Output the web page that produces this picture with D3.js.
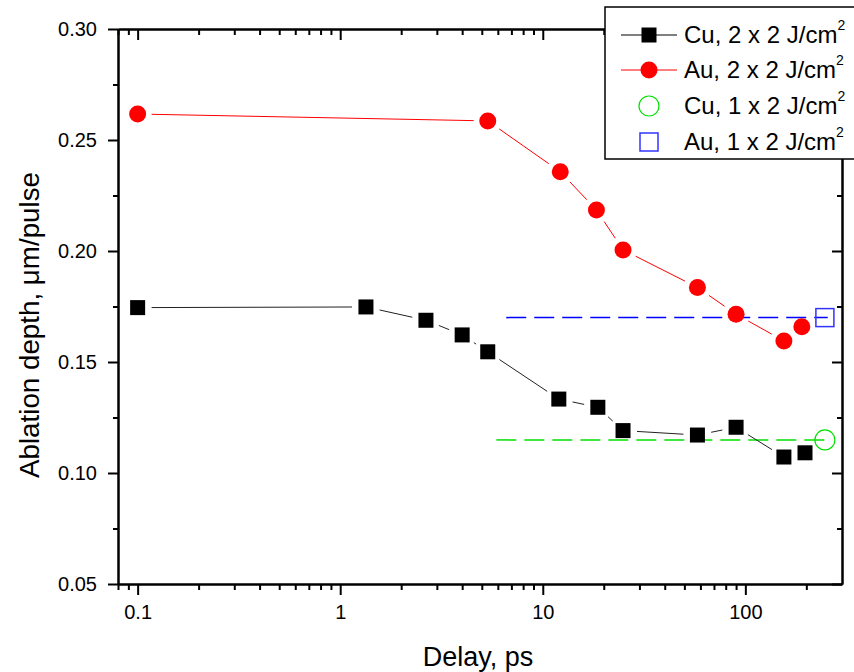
<!DOCTYPE html>
<html>
<head>
<meta charset="utf-8">
<script src="https://d3js.org/d3.v7.min.js"></script>
<style>
  body { margin: 0; background: #fff; }
  svg { display: block; font-family: "Liberation Sans", Arial, sans-serif; }
</style>
</head>
<body>
<div id="chart"></div>
<script>
// data
const cuDelay = [0.1, 1.34, 2.65, 4.0, 5.35, 12.0, 18.7, 24.9, 58, 90, 155, 197];
const cuDepth = [0.1745, 0.1748, 0.1688, 0.1622, 0.1546, 0.1333, 0.1296, 0.1191, 0.1171, 0.1206, 0.1072, 0.1091];
const auDelay = [0.1, 5.35, 12.2, 18.4, 24.9, 58, 90, 155, 190];
const auDepth = [0.2617, 0.2586, 0.2357, 0.2185, 0.2005, 0.1836, 0.1715, 0.1595, 0.1659];
// single-pulse reference points and their dashed level lines
const cu1Delay = [247], cu1Depth = [0.1149], cu1Range = [5.9, 247];
const au1Delay = [247], au1Depth = [0.170], au1Range = [6.6, 255];

const xMajor = [0.1, 1, 10, 100];
const xMinor = [0.08, 0.09, 0.2, 0.3, 0.4, 0.5, 0.6, 0.7, 0.8, 0.9,
  2, 3, 4, 5, 6, 7, 8, 9, 20, 30, 40, 50, 60, 70, 80, 90, 200];
const yMajor = [0.05, 0.10, 0.15, 0.20, 0.25, 0.30];
const yMinor = [0.075, 0.125, 0.175, 0.225, 0.275];

const legendLabels = ["Cu, 2 x 2 J/cm", "Au, 2 x 2 J/cm", "Cu, 1 x 2 J/cm", "Au, 1 x 2 J/cm"];

const W = 854, H = 672;
const pLeft = 118, pRight = 842, pTop = 29, pBottom = 584;

const svg = d3.select("#chart").append("svg")
  .attr("width", W).attr("height", H);

const x = d3.scaleLog().domain([0.08, 300]).range([pLeft, pRight]);
const y = d3.scaleLinear().domain([0.05, 0.30]).range([pBottom, pTop]);

// axes
function styleAxis(g) {
  g.select(".domain").attr("stroke", "#000").attr("stroke-width", 2);
  g.selectAll(".tick line").attr("stroke", "#000").attr("stroke-width", 2);
}

svg.append("g").attr("transform", `translate(0,${pBottom})`)
  .call(d3.axisBottom(x).tickValues(xMinor).tickFormat("").tickSize(6).tickSizeOuter(0))
  .call(styleAxis);
svg.append("g").attr("transform", `translate(0,${pBottom})`)
  .call(d3.axisBottom(x).tickValues(xMajor).tickFormat(d3.format("~g")).tickSize(11).tickSizeOuter(0).tickPadding(10))
  .call(styleAxis)
  .selectAll("text").attr("font-size", 20).attr("fill", "#000")
  .attr("font-family", "Liberation Sans, Arial, sans-serif");

svg.append("g").attr("transform", `translate(0,${pTop})`)
  .call(d3.axisBottom(x).tickValues(xMinor).tickFormat("").tickSize(6).tickSizeOuter(0))
  .call(styleAxis);
svg.append("g").attr("transform", `translate(0,${pTop})`)
  .call(d3.axisBottom(x).tickValues(xMajor).tickFormat("").tickSize(11).tickSizeOuter(0))
  .call(styleAxis);

svg.append("g").attr("transform", `translate(${pLeft},0)`)
  .call(d3.axisLeft(y).tickValues(yMinor).tickFormat("").tickSize(5).tickSizeOuter(0))
  .call(styleAxis);
svg.append("g").attr("transform", `translate(${pLeft},0)`)
  .call(d3.axisLeft(y).tickValues(yMajor).tickFormat(d3.format(".2f")).tickSize(10).tickSizeOuter(0).tickPadding(11))
  .call(styleAxis)
  .selectAll("text").attr("font-size", 20).attr("fill", "#000")
  .attr("font-family", "Liberation Sans, Arial, sans-serif");

svg.append("g").attr("transform", `translate(${pRight},0)`)
  .call(d3.axisLeft(y).tickValues(yMinor).tickFormat("").tickSize(5).tickSizeOuter(0))
  .call(styleAxis);
svg.append("g").attr("transform", `translate(${pRight},0)`)
  .call(d3.axisLeft(y).tickValues(yMajor).tickFormat("").tickSize(10).tickSizeOuter(0))
  .call(styleAxis);

// axis titles
svg.append("text")
  .attr("x", 478).attr("y", 666)
  .attr("text-anchor", "middle").attr("font-size", 27)
  .text("Delay, ps");
svg.append("text")
  .attr("transform", "translate(39,325) rotate(-90)")
  .attr("text-anchor", "middle").attr("font-size", 27)
  .attr("textLength", 306).attr("lengthAdjust", "spacingAndGlyphs")
  .text("Ablation depth, \u03bcm/pulse");

// dashed reference levels
svg.append("line")
  .attr("x1", x(cu1Range[0])).attr("x2", x(cu1Range[1]))
  .attr("y1", y(cu1Depth[0])).attr("y2", y(cu1Depth[0]))
  .attr("stroke", "#00e000").attr("stroke-width", 1.5).attr("stroke-dasharray", "20,8");
svg.append("line")
  .attr("x1", x(au1Range[0])).attr("x2", x(au1Range[1]))
  .attr("y1", y(au1Depth[0])).attr("y2", y(au1Depth[0]))
  .attr("stroke", "#0000ff").attr("stroke-width", 1.5).attr("stroke-dasharray", "20,8");

// connecting lines, trimmed near the markers like Origin does
function drawLinks(xs, ys, gap, color) {
  const pts = xs.map((d, i) => [x(d), y(ys[i])]);
  const segs = d3.pairs(pts).map(([a, b]) => {
    const dx = b[0] - a[0], dy = b[1] - a[1];
    const len = Math.hypot(dx, dy);
    const ux = dx / len, uy = dy / len;
    return [a[0] + ux * gap, a[1] + uy * gap, b[0] - ux * gap, b[1] - uy * gap, len];
  }).filter(s => s[4] > 2 * gap);
  svg.append("g").selectAll("line").data(segs).join("line")
    .attr("x1", d => d[0]).attr("y1", d => d[1])
    .attr("x2", d => d[2]).attr("y2", d => d[3])
    .attr("stroke", color).attr("stroke-width", 1);
}
drawLinks(cuDelay, cuDepth, 14, "#222");
drawLinks(auDelay, auDepth, 14, "#ff0000");

const sq = 15, rr = 8.5;
svg.append("g").selectAll("rect").data(cuDelay).join("rect")
  .attr("x", (d) => x(d) - sq / 2)
  .attr("y", (d, i) => y(cuDepth[i]) - sq / 2)
  .attr("width", sq).attr("height", sq).attr("fill", "#000");
svg.append("g").selectAll("circle").data(auDelay).join("circle")
  .attr("cx", d => x(d)).attr("cy", (d, i) => y(auDepth[i]))
  .attr("r", rr).attr("fill", "#ff0000");

svg.append("g").selectAll("circle").data(cu1Delay).join("circle")
  .attr("cx", d => x(d)).attr("cy", (d, i) => y(cu1Depth[i]))
  .attr("r", 10).attr("fill", "none").attr("stroke", "#00e000").attr("stroke-width", 1.2);
svg.append("g").selectAll("rect").data(au1Delay).join("rect")
  .attr("x", d => x(d) - 9).attr("y", (d, i) => y(au1Depth[i]) - 9)
  .attr("width", 18).attr("height", 18)
  .attr("fill", "none").attr("stroke", "#3333ff").attr("stroke-width", 1.5);

// legend
const lg = svg.append("g");
lg.append("rect").attr("x", 605).attr("y", 7).attr("width", 260).attr("height", 152)
  .attr("fill", "#fff").attr("stroke", "#000").attr("stroke-width", 1.5);

const rows = [35, 70, 106, 142];
const sx = 649;
lg.append("line").attr("x1", 621).attr("x2", 677).attr("y1", rows[0]).attr("y2", rows[0]).attr("stroke", "#000");
lg.append("rect").attr("x", sx - 7.5).attr("y", rows[0] - 7.5).attr("width", 15).attr("height", 15).attr("fill", "#000");
lg.append("line").attr("x1", 621).attr("x2", 677).attr("y1", rows[1]).attr("y2", rows[1]).attr("stroke", "#ff0000");
lg.append("circle").attr("cx", sx).attr("cy", rows[1]).attr("r", rr).attr("fill", "#ff0000");
lg.append("circle").attr("cx", sx).attr("cy", rows[2]).attr("r", 10)
  .attr("fill", "none").attr("stroke", "#00e000").attr("stroke-width", 1.2);
lg.append("rect").attr("x", sx - 9).attr("y", rows[3] - 9).attr("width", 18).attr("height", 18)
  .attr("fill", "none").attr("stroke", "#3333ff").attr("stroke-width", 1.5);

legendLabels.forEach((t, i) => {
  const tx = lg.append("text").attr("x", 684).attr("y", rows[i] + 8).attr("font-size", 24);
  tx.append("tspan").text(t);
  tx.append("tspan").attr("font-size", 14).attr("dy", -13).text("2");
});
</script>
</body>
</html>
